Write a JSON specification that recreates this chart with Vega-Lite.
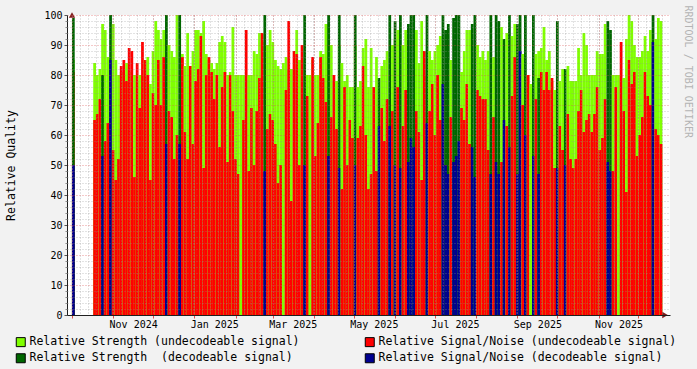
{
  "$schema": "https://vega.github.io/schema/vega-lite/v6.json",
  "width": 603,
  "height": 300,
  "autosize": {"type": "none"},
  "padding": {"left": 67, "top": 15, "right": 27, "bottom": 54},
  "background": "#F2F2F2",
  "config": {
    "view": {"fill": "#FFFFFF", "stroke": null},
    "font": "DejaVu Sans Mono",
    "axis": {"labelFont": "DejaVu Sans Mono", "titleFont": "DejaVu Sans Mono", "labelColor": "#000000", "titleColor": "#000000", "labelFontSize": 10, "titleFontWeight": "normal"}
  },
  "datasets": {
    "q": [
      {"d":"2024-10-02","s":85,"n":81,"ds":99,"dn":50},
      {"d":"2024-10-18","s":84,"n":65},
      {"d":"2024-10-20","s":80,"n":67},
      {"d":"2024-10-22","s":82,"n":72},
      {"d":"2024-10-24","s":97,"ds":80,"dn":53},
      {"d":"2024-10-26","s":95,"n":58},
      {"d":"2024-10-28","s":86,"n":64},
      {"d":"2024-10-30","ds":100,"dn":85},
      {"d":"2024-11-01","s":97,"n":55},
      {"d":"2024-11-03","s":85,"n":45},
      {"d":"2024-11-05","s":80,"n":52},
      {"d":"2024-11-07","s":81,"n":83},
      {"d":"2024-11-09","s":80,"n":85},
      {"d":"2024-11-11","s":84,"n":78},
      {"d":"2024-11-13","s":81,"n":89},
      {"d":"2024-11-15","s":80,"n":88},
      {"d":"2024-11-17","s":80,"n":46},
      {"d":"2024-11-19","s":78,"n":84},
      {"d":"2024-11-21","s":80,"n":69},
      {"d":"2024-11-23","s":80,"n":91},
      {"d":"2024-11-25","s":85,"n":85},
      {"d":"2024-11-27","s":86,"n":80},
      {"d":"2024-11-29","s":77,"n":45},
      {"d":"2024-12-01","s":88,"n":74},
      {"d":"2024-12-03","s":98,"n":70},
      {"d":"2024-12-05","s":95,"n":85},
      {"d":"2024-12-07","s":92,"n":70},
      {"d":"2024-12-09","s":95,"n":86},
      {"d":"2024-12-11","ds":100,"dn":57},
      {"d":"2024-12-13","s":90,"n":68},
      {"d":"2024-12-15","s":88,"n":66},
      {"d":"2024-12-17","s":86,"n":52},
      {"d":"2024-12-19","s":100,"n":60},
      {"d":"2024-12-21","ds":100,"dn":57},
      {"d":"2024-12-23","s":87,"n":86},
      {"d":"2024-12-25","s":83,"n":61},
      {"d":"2024-12-27","s":94,"n":52},
      {"d":"2024-12-29","s":83,"n":83},
      {"d":"2024-12-31","s":88,"n":57},
      {"d":"2025-01-02","s":95,"n":78},
      {"d":"2025-01-04","s":95,"n":82},
      {"d":"2025-01-06","s":94,"n":93},
      {"d":"2025-01-08","s":98,"n":49},
      {"d":"2025-01-10","s":87,"n":80},
      {"d":"2025-01-12","s":85,"n":86},
      {"d":"2025-01-14","s":84,"n":81},
      {"d":"2025-01-16","s":82,"n":72},
      {"d":"2025-01-18","s":84,"n":80},
      {"d":"2025-01-20","s":91,"n":56},
      {"d":"2025-01-22","s":93,"n":76},
      {"d":"2025-01-24","s":91,"n":81},
      {"d":"2025-01-26","s":80,"n":51},
      {"d":"2025-01-28","s":81,"n":80},
      {"d":"2025-01-30","s":96,"n":68},
      {"d":"2025-02-01","s":80,"n":52},
      {"d":"2025-02-03","s":80,"n":47},
      {"d":"2025-02-05","s":80},
      {"d":"2025-02-07","s":80,"n":65},
      {"d":"2025-02-09","s":80,"n":95},
      {"d":"2025-02-11","s":80,"n":48},
      {"d":"2025-02-13","s":80,"n":69},
      {"d":"2025-02-15","s":88,"n":50},
      {"d":"2025-02-17","s":87,"n":68},
      {"d":"2025-02-19","s":94,"n":79},
      {"d":"2025-02-21","s":91,"n":94},
      {"d":"2025-02-23","ds":100,"dn":48},
      {"d":"2025-02-25","s":90,"n":62},
      {"d":"2025-02-27","s":95,"n":67},
      {"d":"2025-03-01","s":91,"n":65},
      {"d":"2025-03-03","s":85,"n":57},
      {"d":"2025-03-05","s":83,"n":44},
      {"d":"2025-03-07","s":82,"n":50},
      {"d":"2025-03-09","s":84},
      {"d":"2025-03-11","s":86,"n":75},
      {"d":"2025-03-13","s":82,"n":98},
      {"d":"2025-03-15","s":82,"n":38},
      {"d":"2025-03-17","s":82,"n":88},
      {"d":"2025-03-19","s":95,"n":87},
      {"d":"2025-03-21","s":85,"n":50},
      {"d":"2025-03-23","s":85,"n":90},
      {"d":"2025-03-25","ds":100,"dn":50},
      {"d":"2025-03-27","s":80,"n":73},
      {"d":"2025-03-29","s":80},
      {"d":"2025-03-31","s":85,"n":86},
      {"d":"2025-04-02","s":80,"n":53},
      {"d":"2025-04-04","s":80,"n":64},
      {"d":"2025-04-06","s":88,"n":86},
      {"d":"2025-04-08","s":87,"n":79},
      {"d":"2025-04-10","s":97,"n":71},
      {"d":"2025-04-12","s":97,"ds":100,"dn":53},
      {"d":"2025-04-14","s":90,"n":66},
      {"d":"2025-04-16","s":78,"n":80},
      {"d":"2025-04-18","s":78,"n":62},
      {"d":"2025-04-20","s":90,"ds":100,"dn":49},
      {"d":"2025-04-22","s":84,"n":42},
      {"d":"2025-04-24","s":78,"n":76},
      {"d":"2025-04-26","s":80,"n":50},
      {"d":"2025-04-28","s":76,"n":65},
      {"d":"2025-04-30","s":76,"n":59},
      {"d":"2025-05-02","s":90,"ds":100,"dn":50},
      {"d":"2025-05-04","s":76,"n":59},
      {"d":"2025-05-06","s":78,"n":63},
      {"d":"2025-05-08","s":89,"n":83},
      {"d":"2025-05-10","s":92,"n":60},
      {"d":"2025-05-12","s":76,"n":42},
      {"d":"2025-05-14","s":89,"n":47},
      {"d":"2025-05-16","s":76,"n":76},
      {"d":"2025-05-18","s":86,"n":48},
      {"d":"2025-05-20","ds":79,"dn":63},
      {"d":"2025-05-22","s":83,"n":69},
      {"d":"2025-05-24","s":85,"n":58},
      {"d":"2025-05-26","s":88,"n":72},
      {"d":"2025-05-28","ds":100,"dn":63},
      {"d":"2025-05-30","s":90,"n":68},
      {"d":"2025-06-01","s":92,"ds":98,"dn":50},
      {"d":"2025-06-03","s":95,"n":76},
      {"d":"2025-06-05","ds":100,"dn":49},
      {"d":"2025-06-07","s":90,"n":63},
      {"d":"2025-06-09","s":95,"n":75},
      {"d":"2025-06-11","ds":97,"dn":51},
      {"d":"2025-06-13","ds":100,"dn":59},
      {"d":"2025-06-15","ds":100,"dn":56},
      {"d":"2025-06-17","s":95,"n":68},
      {"d":"2025-06-19","s":84,"n":61},
      {"d":"2025-06-21","s":98,"n":45},
      {"d":"2025-06-23","s":80,"n":88},
      {"d":"2025-06-25","ds":100,"dn":64},
      {"d":"2025-06-27","s":88,"n":68},
      {"d":"2025-06-29","s":85,"n":77},
      {"d":"2025-07-01","s":88,"n":60},
      {"d":"2025-07-03","s":90,"n":80},
      {"d":"2025-07-05","s":93,"n":65},
      {"d":"2025-07-07","ds":100,"dn":77},
      {"d":"2025-07-09","ds":95,"dn":50},
      {"d":"2025-07-11","ds":97,"dn":47},
      {"d":"2025-07-13","s":85,"n":66},
      {"d":"2025-07-15","ds":99,"dn":51},
      {"d":"2025-07-17","ds":100,"dn":53},
      {"d":"2025-07-19","ds":100,"dn":58},
      {"d":"2025-07-21","s":81,"n":69},
      {"d":"2025-07-23","s":88,"n":65},
      {"d":"2025-07-25","s":95,"n":77},
      {"d":"2025-07-27","s":95,"n":57},
      {"d":"2025-07-29","ds":97,"dn":56},
      {"d":"2025-07-31","ds":100,"dn":46},
      {"d":"2025-08-02","s":90,"n":75},
      {"d":"2025-08-04","s":86,"n":73},
      {"d":"2025-08-06","s":88,"n":72},
      {"d":"2025-08-08","s":85,"n":72},
      {"d":"2025-08-10","s":88,"n":55},
      {"d":"2025-08-12","ds":100,"dn":47},
      {"d":"2025-08-14","s":86,"n":66},
      {"d":"2025-08-16","ds":100,"dn":51},
      {"d":"2025-08-18","ds":98,"dn":47},
      {"d":"2025-08-20","s":96,"n":51},
      {"d":"2025-08-22","ds":92,"dn":65},
      {"d":"2025-08-24","s":94,"n":63},
      {"d":"2025-08-26","ds":100,"dn":56},
      {"d":"2025-08-28","s":93,"n":73},
      {"d":"2025-08-30","s":97,"n":86},
      {"d":"2025-09-01","ds":97,"dn":47},
      {"d":"2025-09-03","ds":100,"dn":88},
      {"d":"2025-09-05","s":87,"n":70},
      {"d":"2025-09-07","ds":100,"dn":60},
      {"d":"2025-09-09","s":80,"n":80},
      {"d":"2025-09-11","s":77},
      {"d":"2025-09-13","ds":100,"dn":53},
      {"d":"2025-09-15","s":87,"n":72},
      {"d":"2025-09-17","s":88,"ds":79,"dn":47},
      {"d":"2025-09-19","s":89,"n":81},
      {"d":"2025-09-21","s":96,"n":75},
      {"d":"2025-09-23","s":85,"n":81},
      {"d":"2025-09-25","s":88,"n":75},
      {"d":"2025-09-27","s":78,"n":79},
      {"d":"2025-09-29","s":75,"n":49},
      {"d":"2025-10-01","ds":98,"dn":49},
      {"d":"2025-10-03","s":78,"n":63},
      {"d":"2025-10-05","s":82,"n":55},
      {"d":"2025-10-07","ds":82,"dn":50},
      {"d":"2025-10-09","s":83,"n":67},
      {"d":"2025-10-11","s":78,"n":52},
      {"d":"2025-10-13","s":78,"n":49},
      {"d":"2025-10-15","s":78,"n":52},
      {"d":"2025-10-17","s":89,"n":68},
      {"d":"2025-10-19","s":80,"n":75},
      {"d":"2025-10-21","s":94,"n":61},
      {"d":"2025-10-23","s":90,"n":65},
      {"d":"2025-10-25","s":80,"n":67},
      {"d":"2025-10-27","s":80,"n":61},
      {"d":"2025-10-29","s":80,"n":67},
      {"d":"2025-10-31","s":88,"n":76},
      {"d":"2025-11-02","s":87,"n":55},
      {"d":"2025-11-04","s":87,"n":59},
      {"d":"2025-11-06","s":97,"n":72},
      {"d":"2025-11-08","ds":98,"dn":51},
      {"d":"2025-11-10","ds":95,"dn":48},
      {"d":"2025-11-12","s":80,"n":48},
      {"d":"2025-11-14","s":80,"n":76},
      {"d":"2025-11-16","s":80},
      {"d":"2025-11-18","s":79,"n":91},
      {"d":"2025-11-20","s":79,"n":68},
      {"d":"2025-11-22","s":92,"n":41},
      {"d":"2025-11-24","s":100,"n":85},
      {"d":"2025-11-26","s":98,"n":77},
      {"d":"2025-11-28","s":90,"n":81},
      {"d":"2025-11-30","s":86,"n":53},
      {"d":"2025-12-02","s":86,"n":60},
      {"d":"2025-12-04","s":88,"n":66},
      {"d":"2025-12-06","s":93,"n":81},
      {"d":"2025-12-08","s":88,"n":73},
      {"d":"2025-12-10","s":95,"n":70},
      {"d":"2025-12-12","ds":100,"dn":91},
      {"d":"2025-12-14","s":92,"n":62},
      {"d":"2025-12-16","s":99,"n":60},
      {"d":"2025-12-18","s":98,"n":57}
    ]
  },
  "resolve": {"axis": {"x": "independent", "y": "independent"}},
  "layer": [
    {
      "data": {"name": "q"},
      "transform": [
        {"fold": ["s", "n", "ds", "dn"], "as": ["k", "v"]},
        {"filter": "isValid(datum.v)"}
      ],
      "mark": {"type": "bar", "width": 2.75},
      "encoding": {
        "x": {
          "field": "d", "type": "temporal",
          "scale": {"type": "utc", "domain": [{"year": 2024, "month": 10, "date": 1, "utc": true}, {"year": 2025, "month": 12, "date": 21, "utc": true}]},
          "axis": {
            "orient": "bottom",
            "values": [
              {"year": 2024, "month": 10, "date": 1, "utc": true},
              {"year": 2024, "month": 11, "date": 1, "utc": true},
              {"year": 2024, "month": 12, "date": 1, "utc": true},
              {"year": 2025, "month": 1, "date": 1, "utc": true},
              {"year": 2025, "month": 2, "date": 1, "utc": true},
              {"year": 2025, "month": 3, "date": 1, "utc": true},
              {"year": 2025, "month": 4, "date": 1, "utc": true},
              {"year": 2025, "month": 5, "date": 1, "utc": true},
              {"year": 2025, "month": 6, "date": 1, "utc": true},
              {"year": 2025, "month": 7, "date": 1, "utc": true},
              {"year": 2025, "month": 8, "date": 1, "utc": true},
              {"year": 2025, "month": 9, "date": 1, "utc": true},
              {"year": 2025, "month": 10, "date": 1, "utc": true},
              {"year": 2025, "month": 11, "date": 1, "utc": true},
              {"year": 2025, "month": 12, "date": 1, "utc": true}
            ],
            "labels": false, "title": null,
            "grid": true, "gridColor": "#DE4F4F", "gridOpacity": 0.6, "gridDash": [1, 2],
            "ticks": true, "tickSize": 3, "tickColor": "#DE4F4F",
            "domain": true, "domainColor": "#1F1F1F", "domainWidth": 1,
            "zindex": 1
          }
        },
        "y": {
          "field": "v", "type": "quantitative", "stack": null,
          "scale": {"domain": [0, 100], "nice": false},
          "axis": {
            "orient": "left",
            "values": [0, 10, 20, 30, 40, 50, 60, 70, 80, 90, 100],
            "title": "Relative Quality", "titleFontSize": 11.5, "titlePadding": 27,
            "grid": true, "gridColor": "#DE4F4F", "gridOpacity": 0.6, "gridDash": [1, 2],
            "tickSize": 3, "tickColor": "#555555", "labelPadding": 2,
            "domain": true, "domainColor": "#1F1F1F",
            "zindex": 1
          }
        },
        "color": {
          "field": "k", "type": "nominal",
          "scale": {"domain": ["s", "n", "ds", "dn"], "range": ["#80FF00", "#FF0000", "#006600", "#000090"]},
          "legend": {
            "orient": "none", "legendX": -52, "legendY": 321,
            "direction": "horizontal", "columns": 2, "title": null, "padding": 0,
            "symbolType": "square", "symbolSize": 81, "symbolStrokeColor": "#000000", "symbolStrokeWidth": 1,
            "labelFont": "DejaVu Sans Mono", "labelFontSize": 11.5, "labelColor": "#000000", "labelOffset": 3,
            "columnPadding": 63, "rowPadding": 2.5, "labelLimit": 0,
            "labelExpr": "datum.label == 's' ? 'Relative Strength (undecodeable signal)' : datum.label == 'n' ? 'Relative Signal/Noise (undecodeable signal)' : datum.label == 'ds' ? 'Relative Strength\u00a0 (decodeable signal)' : 'Relative Signal/Noise (decodeable signal)'"
          }
        }
      }
    },
    {
      "data": {"values": [{}]},
      "mark": {"type": "point", "shape": "triangle-right", "filled": true, "color": "#801F1F", "size": 40, "opacity": 1},
      "encoding": {
        "x": {
          "datum": {"year": 2025, "month": 12, "date": 21, "utc": true}, "type": "temporal",
          "scale": {"type": "utc", "domain": [{"year": 2024, "month": 10, "date": 1, "utc": true}, {"year": 2025, "month": 12, "date": 21, "utc": true}]},
          "axis": {
            "orient": "bottom",
            "tickCount": {"interval": "day", "step": 6},
            "labels": false, "ticks": false, "domain": false, "title": null,
            "grid": true, "gridColor": "#8F8F8F", "gridOpacity": 0.5, "gridDash": [1, 2],
            "zindex": 1
          }
        },
        "y": {
          "datum": 0, "type": "quantitative",
          "scale": {"domain": [0, 100], "nice": false},
          "axis": {
            "orient": "left",
            "values": [2, 4, 6, 8, 12, 14, 16, 18, 22, 24, 26, 28, 32, 34, 36, 38, 42, 44, 46, 48, 52, 54, 56, 58, 62, 64, 66, 68, 72, 74, 76, 78, 82, 84, 86, 88, 92, 94, 96, 98],
            "labels": false, "domain": false, "title": null,
            "grid": true, "gridColor": "#8F8F8F", "gridOpacity": 0.5, "gridDash": [1, 2],
            "tickSize": 2, "tickColor": "#8F8F8F",
            "zindex": 1
          }
        }
      }
    },
    {
      "data": {"values": [{}]},
      "mark": {"type": "point", "shape": "triangle-up", "filled": true, "color": "#801F1F", "size": 40, "opacity": 1},
      "encoding": {
        "x": {
          "datum": {"year": 2024, "month": 10, "date": 1, "utc": true}, "type": "temporal",
          "scale": {"type": "utc", "domain": [{"year": 2024, "month": 10, "date": 1, "utc": true}, {"year": 2025, "month": 12, "date": 21, "utc": true}]},
          "axis": {
            "orient": "bottom",
            "values": [
              {"year": 2024, "month": 11, "date": 16, "utc": true},
              {"year": 2025, "month": 1, "date": 16, "utc": true},
              {"year": 2025, "month": 3, "date": 16, "utc": true},
              {"year": 2025, "month": 5, "date": 16, "utc": true},
              {"year": 2025, "month": 7, "date": 16, "utc": true},
              {"year": 2025, "month": 9, "date": 16, "utc": true},
              {"year": 2025, "month": 11, "date": 16, "utc": true}
            ],
            "format": "%b %Y", "labelFlush": false, "labelOverlap": false,
            "grid": false, "ticks": false, "tickSize": 0, "domain": false, "title": null,
            "labelPadding": 4, "labelFontSize": 10
          }
        },
        "y": {
          "datum": 100, "type": "quantitative",
          "scale": {"domain": [0, 100], "nice": false},
          "axis": {
            "orient": "right", "labels": false, "ticks": false, "domain": false, "grid": false,
            "title": "RRDTOOL / TOBI OETIKER", "titleColor": "#B4B4B4", "titleFontSize": 10,
            "titleAnchor": "end", "titleAlign": "left", "titleAngle": 90, "titlePadding": 12, "titleY": -10
          }
        }
      }
    }
  ]
}
